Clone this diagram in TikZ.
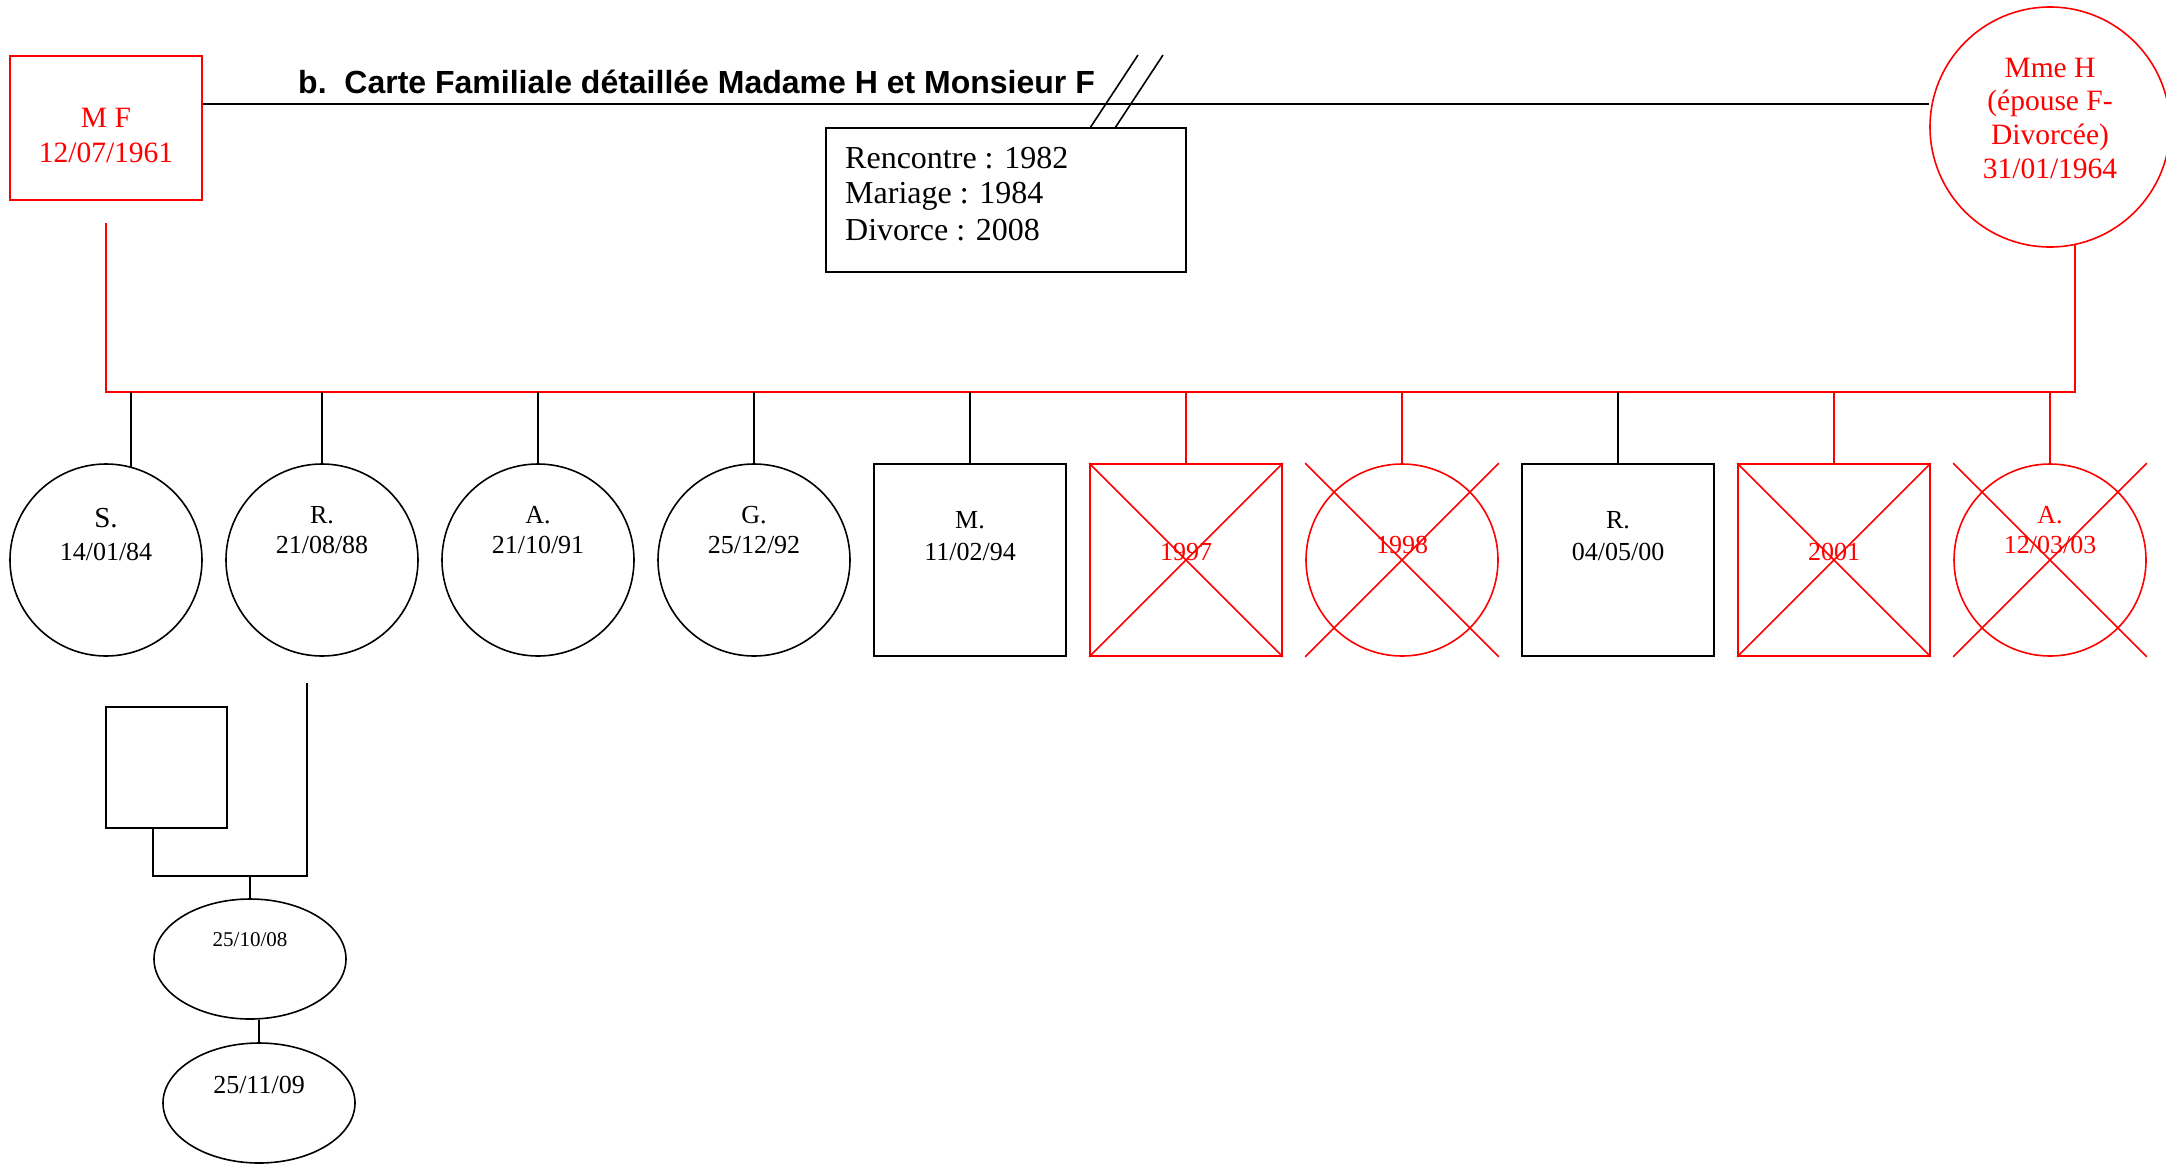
\documentclass[tikz,border=0pt]{standalone}
\usepackage{fontspec}
\setmainfont{Liberation Serif}
\newfontfamily\titlefont{Liberation Sans}
\usetikzlibrary{calc,shapes.geometric}
\definecolor{gred}{RGB}{255,0,0}
\begin{document}
\begin{tikzpicture}[x=1pt,y=-1pt,
  ln/.style={line width=1.6pt, draw=black},
  rl/.style={line width=1.6pt, draw=gred},
  fem/.style={circle, draw, line width=1.6pt, minimum size=192pt, inner sep=0pt},
  mal/.style={rectangle, draw, line width=1.6pt, minimum size=192pt, inner sep=0pt},
  txt/.style={font=\fontsize{26}{30}\selectfont, anchor=base, inner sep=0pt},
  big/.style={font=\fontsize{29.5}{34}\selectfont, anchor=base, inner sep=0pt},
  info/.style={font=\fontsize{32}{36}\selectfont, anchor=base west, inner sep=0pt}
]
\useasboundingbox (0,0) rectangle (2166,1163);

% parents
\node[mal, draw=gred, minimum width=192pt, minimum height=144pt] (MF) at (106,128) {};
\node[big, text=gred] (mf1) at (106,127) {M F};
\node[big, text=gred] (mf2) at (106,162) {12/07/1961};

\node[fem, draw=gred, minimum size=240pt] (MmeH) at (2050,127) {};
\node[big, text=gred] (mh1) at (2050,77) {Mme H};
\node[big, text=gred] (mh2) at (2050,110) {(épouse F-};
\node[big, text=gred] (mh3) at (2050,144) {Divorcée)};
\node[big, text=gred] (mh4) at (2050,178) {31/01/1964};

% title
\node[anchor=base west, inner sep=0pt, font=\titlefont\bfseries\fontsize{32}{36}\selectfont] (title) at (298,93) {b.\ \ Carte Familiale détaillée Madame H et Monsieur F};

% marriage line
\coordinate (mline) at (0,104);
\draw[ln] (MF.east |- mline) -- (MmeH.west |- mline);
\draw[ln] (1090,128) -- (1138,55);
\draw[ln] (1115,128) -- (1163,55);

% info box
\node[rectangle, draw, line width=1.6pt, minimum width=360pt, minimum height=144pt, inner sep=0pt] (infobox) at (1006,200) {};
\node[info] (i1) at (845,168) {Rencontre : 1982};
\node[info] (i2) at (845,203) {Mariage : 1984};
\node[info] (i3) at (845,240) {Divorce : 2008};

% children
\node[fem] (c1) at (106,560) {};
\node[fem] (c2) at (322,560) {};
\node[fem] (c3) at (538,560) {};
\node[fem] (c4) at (754,560) {};
\node[mal] (c5) at (970,560) {};
\node[mal, draw=gred] (c6) at (1186,560) {};
\node[fem, draw=gred] (c7) at (1402,560) {};
\node[mal] (c8) at (1618,560) {};
\node[mal, draw=gred] (c9) at (1834,560) {};
\node[fem, draw=gred] (c10) at (2050,560) {};

% crosses
\foreach \n in {c6,c7,c9,c10}{
  \draw[rl] (\n.west |- \n.north) -- (\n.east |- \n.south);
  \draw[rl] (\n.east |- \n.north) -- (\n.west |- \n.south);
}

% bus
\coordinate (mfdrop) at (106,223);
\coordinate (busL) at (106,392);
\coordinate (busR) at (MmeH.-78 |- busL);
\draw[rl] (mfdrop) -- (busL) -- (busR) -- (MmeH.-78);

% child connectors
\draw[ln] (c1.75.5 |- busL) -- (c1.75.5);
\foreach \n in {c2,c3,c4,c5,c8}{
  \draw[ln] (\n.north |- busL) -- (\n.north);
}
\foreach \n in {c6,c7,c9,c10}{
  \draw[rl] (\n.north |- busL) -- (\n.north);
}

% child texts
\node[txt, font=\fontsize{29}{33}\selectfont] (t1a) at (106,527) {S.};
\node[txt] (t1b) at (106,560) {14/01/84};
\node[txt] (t2a) at (322,523) {R.};
\node[txt] (t2b) at (322,553) {21/08/88};
\node[txt] (t3a) at (538,523) {A.};
\node[txt] (t3b) at (538,553) {21/10/91};
\node[txt] (t4a) at (754,523) {G.};
\node[txt] (t4b) at (754,553) {25/12/92};
\node[txt] (t5a) at (970,528) {M.};
\node[txt] (t5b) at (970,560) {11/02/94};
\node[txt, text=gred] (t6) at (1186,560) {1997};
\node[txt, text=gred] (t7) at (1402,553) {1998};
\node[txt] (t8a) at (1618,528) {R.};
\node[txt] (t8b) at (1618,560) {04/05/00};
\node[txt, text=gred] (t9) at (1834,560) {2001};
\node[txt, text=gred] (t10a) at (2050,523) {A.};
\node[txt, text=gred] (t10b) at (2050,553) {12/03/03};

% grandchildren
\node[rectangle, draw, line width=1.6pt, minimum size=121pt, inner sep=0pt] (sq) at (166.5,767.5) {};
\node[ellipse, draw, line width=1.6pt, minimum width=192pt, minimum height=120pt, inner sep=0pt] (e1) at (250,959) {};
\node[ellipse, draw, line width=1.6pt, minimum width=192pt, minimum height=120pt, inner sep=0pt] (e2) at (259,1103) {};
\node[txt, font=\fontsize{21}{25}\selectfont] (te1) at (250,946) {25/10/08};
\node[txt] (te2) at (259,1093) {25/11/09};

\coordinate (rdrop) at (307,683);
\coordinate (gbus) at (307,876);
\coordinate (sqdrop) at ($(sq.south west)+(48,0)$);
\draw[ln] (rdrop) -- (gbus) -- (sqdrop |- gbus) -- (sqdrop);
\draw[ln] (e1.north |- gbus) -- (e1.north);
\draw[ln] (e2.north |- e1.south) -- (e2.north);
\end{tikzpicture}
\end{document}
